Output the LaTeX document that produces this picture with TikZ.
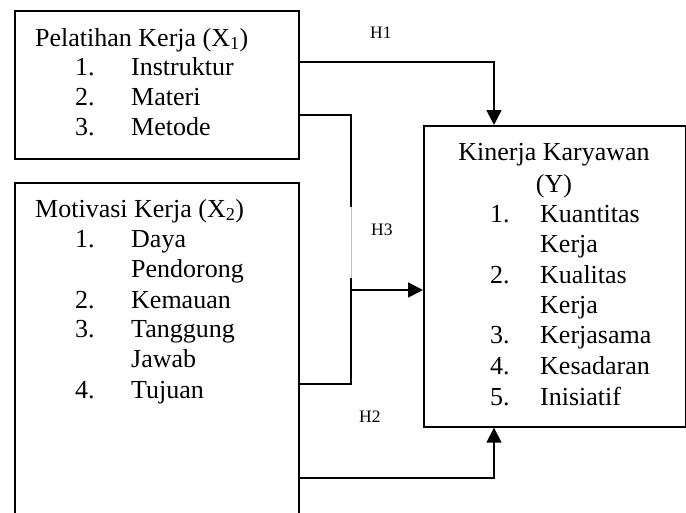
\documentclass[tikz,border=0pt]{standalone}
\usepackage{fontspec}
\setmainfont{Liberation Serif}
\usetikzlibrary{arrows.meta}
\tikzset{
  kotak/.style={draw, line width=1.7pt, anchor=north west, inner sep=0pt},
  teks/.style={anchor=base west, inner sep=0pt, font=\fontsize{26}{30}\selectfont},
  hipo/.style={anchor=base west, inner sep=0pt, font=\fontsize{17.5}{20}\selectfont},
  garis/.style={line width=1.7pt},
  panah/.style={line width=1.7pt, -{Triangle[length=15pt,width=15pt]}}
}
\begin{document}
\begin{tikzpicture}[x=1pt,y=-1pt]
\useasboundingbox (0,0) rectangle (686,512);
\clip (0,0) rectangle (686,512);
% kotak variabel
\node [kotak, minimum width=284pt, minimum height=148pt] (x1) at (14,10) {};
\node [kotak, minimum width=284pt, minimum height=340pt] (x2) at (14,182) {};
\node [kotak, minimum width=262pt, minimum height=301pt] (y) at (423,125) {};
% X1
\node [teks] (x1judul) at (35,46) {Pelatihan Kerja (X\textsubscript{1})};
\node [teks] (x1n1) at (75,75) {1.};
\node [teks] (x1t1) at (131,75) {Instruktur};
\node [teks] (x1n2) at (75,105) {2.};
\node [teks] (x1t2) at (131,105) {Materi};
\node [teks] (x1n3) at (75,135) {3.};
\node [teks] (x1t3) at (131,135) {Metode};
% X2
\node [teks] (x2judul) at (35,217) {Motivasi Kerja (X\textsubscript{2})};
\node [teks] (x2n1) at (75,247) {1.};
\node [teks] (x2t1) at (131,247) {Daya};
\node [teks] (x2t1b) at (131,277) {Pendorong};
\node [teks] (x2n2) at (75,308) {2.};
\node [teks] (x2t2) at (131,308) {Kemauan};
\node [teks] (x2n3) at (75,337) {3.};
\node [teks] (x2t3) at (131,337) {Tanggung};
\node [teks] (x2t3b) at (131,367) {Jawab};
\node [teks] (x2n4) at (75,398) {4.};
\node [teks] (x2t4) at (131,398) {Tujuan};
% Y
\node [teks, anchor=base] (yjudul) at (554,160) {Kinerja Karyawan};
\node [teks, anchor=base] (yjudulb) at (554,192) {(Y)};
\node [teks] (yn1) at (490,222) {1.};
\node [teks] (yt1) at (540,222) {Kuantitas};
\node [teks] (yt1b) at (540,252) {Kerja};
\node [teks] (yn2) at (490,283) {2.};
\node [teks] (yt2) at (540,283) {Kualitas};
\node [teks] (yt2b) at (540,313) {Kerja};
\node [teks] (yn3) at (490,343) {3.};
\node [teks] (yt3) at (540,343) {Kerjasama};
\node [teks] (yn4) at (490,374) {4.};
\node [teks] (yt4) at (540,374) {Kesadaran};
\node [teks] (yn5) at (490,405) {5.};
\node [teks] (yt5) at (540,405) {Inisiatif};
% H1
\coordinate (h1) at (494,62);
\draw [panah] (x1.east |- h1) -| (h1 |- y.north);
\node [hipo] (lh1) at (370,38) {H1};
% H3
\coordinate (h3a) at (351,115);
\coordinate (h3b) at (351,207);
\coordinate (h3c) at (351,278);
\coordinate (h3d) at (351,384);
\coordinate (h3e) at (351,290);
\draw [garis] (x1.east |- h3a) -- (h3a) -- (h3b);
\draw [gray!50, thin] (h3b) -- (h3c);
\draw [garis] (h3c) -- (h3d) -- (x2.east |- h3d);
\draw [panah] (h3e) -- (y.west |- h3e);
\node [hipo] (lh3) at (371,235) {H3};
% H2
\coordinate (h2) at (494,478);
\draw [panah] (x2.east |- h2) -| (y.south -| h2);
\node [hipo] (lh2) at (359,422) {H2};
\end{tikzpicture}
\end{document}
